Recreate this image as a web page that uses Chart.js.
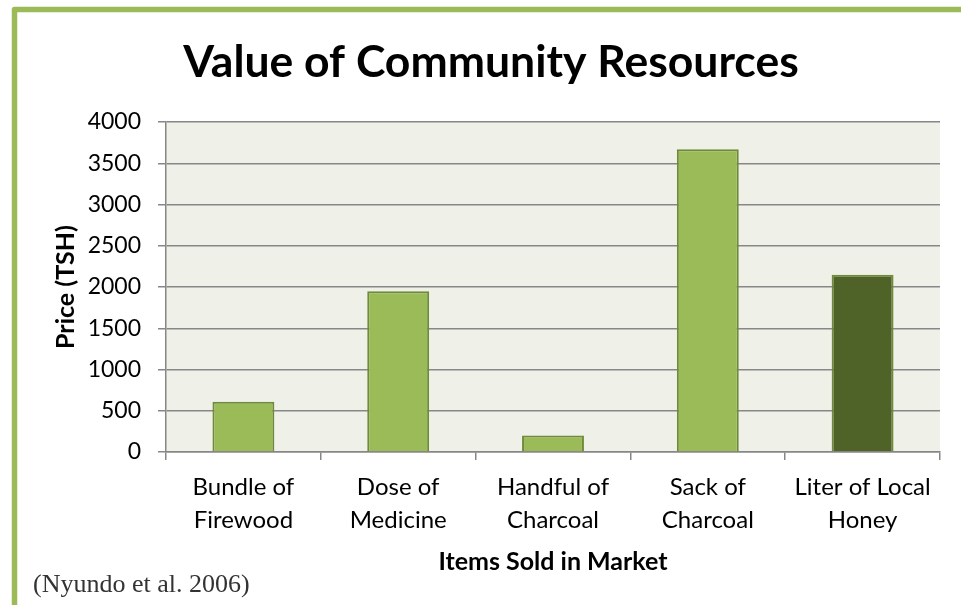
<!DOCTYPE html>
<html>
<head>
<meta charset="utf-8">
<script src="https://cdn.jsdelivr.net/npm/chart.js@4/dist/chart.umd.min.js"></script>
<style>
  html, body { margin: 0; padding: 0; background: #ffffff; }
  #wrap { width: 961px; height: 605px; position: relative; }
  canvas { display: block; }
</style>
</head>
<body>
<div id="wrap"><canvas id="chart" width="961" height="605"></canvas></div>
<script>
// Market prices of community resources (TSH)
const categories = [
  ["Bundle of", "Firewood"],
  ["Dose of", "Medicine"],
  ["Handful of", "Charcoal"],
  ["Sack of", "Charcoal"],
  ["Liter of Local", "Honey"]
];
const prices = [610, 1950, 200, 3670, 2150];
const priceTicks = [0, 500, 1000, 1500, 2000, 2500, 3000, 3500, 4000];

const chartTitle = "Value of Community Resources";
const yTitle = "Price (TSH)";
const xTitle = "Items Sold in Market";
const sourceNote = "(Nyundo et al. 2006)";

const LIGHT_GREEN = "#9bbb59";
const DARK_GREEN = "#4f6228";
const BAR_EDGE = "#6f8a3a";
const GRID = "#878787";
const PLOT_BG = "#eff1e9";
const barFills = [LIGHT_GREEN, LIGHT_GREEN, LIGHT_GREEN, LIGHT_GREEN, DARK_GREEN];

// Page frame, plot background, heading and source note
const decor = {
  id: "decor",
  beforeDraw(chart) {
    const { ctx, chartArea: a } = chart;
    ctx.save();
    ctx.fillStyle = "#ffffff";
    ctx.fillRect(0, 0, chart.width, chart.height);
    ctx.strokeStyle = LIGHT_GREEN;
    ctx.lineWidth = 5.5;
    ctx.lineJoin = "round";
    ctx.beginPath();
    ctx.moveTo(14.5, chart.height + 5);
    ctx.lineTo(14.5, 9.5);
    ctx.lineTo(chart.width + 5, 9.5);
    ctx.stroke();
    ctx.fillStyle = PLOT_BG;
    ctx.fillRect(a.left, a.top, a.right - a.left, a.bottom - a.top);
    ctx.restore();
  },
  afterDraw(chart) {
    const { ctx } = chart;
    ctx.save();
    ctx.fillStyle = "#000000";
    ctx.font = "bold 44.5px Lato";
    ctx.textAlign = "center";
    ctx.textBaseline = "alphabetic";
    ctx.fillText(chartTitle, 491, 77);
    ctx.fillStyle = "#333333";
    ctx.font = "26px 'Liberation Serif'";
    ctx.textAlign = "left";
    ctx.fillText(sourceNote, 33, 592);
    ctx.restore();
  }
};

new Chart(document.getElementById("chart"), {
  type: "bar",
  data: {
    labels: categories,
    datasets: [{
      data: prices,
      backgroundColor: barFills,
      borderColor: BAR_EDGE,
      borderWidth: 2,
      categoryPercentage: 1,
      barPercentage: 0.4
    }]
  },
  options: {
    responsive: false,
    animation: false,
    devicePixelRatio: 1,
    layout: { padding: { top: 122, right: 21, bottom: 0, left: 0 } },
    plugins: {
      legend: { display: false },
      title: { display: false },
      tooltip: { enabled: false }
    },
    scales: {
      y: {
        min: 0,
        max: 4000,
        afterBuildTicks(s) { s.ticks = priceTicks.map(v => ({ value: v })); },
        afterFit(s) { s.width = 166; },
        ticks: {
          font: { family: "Lato", size: 23 },
          color: "#000000",
          padding: 17,
          callback: v => String(v)
        },
        grid: { color: GRID, lineWidth: 1.5, tickLength: 8 },
        border: { color: GRID, width: 1.5 },
        title: {
          display: true,
          text: yTitle,
          font: { family: "Lato", size: 25, weight: "bold" },
          color: "#000000",
          padding: { top: 51, bottom: 0 }
        }
      },
      x: {
        afterFit(s) { s.height = 605 - 452; },
        ticks: {
          font: { family: "Lato", size: 24, lineHeight: 1.375 },
          color: "#000000",
          padding: 11,
          maxRotation: 0,
          autoSkip: false
        },
        grid: { drawOnChartArea: false, offset: true, color: GRID, lineWidth: 1.5, tickLength: 8 },
        border: { color: GRID, width: 1.5 },
        title: {
          display: true,
          text: xTitle,
          font: { family: "Lato", size: 25, weight: "bold" },
          color: "#000000",
          padding: { top: 0, bottom: 28 }
        }
      }
    }
  },
  plugins: [decor]
});
</script>
</body>
</html>
